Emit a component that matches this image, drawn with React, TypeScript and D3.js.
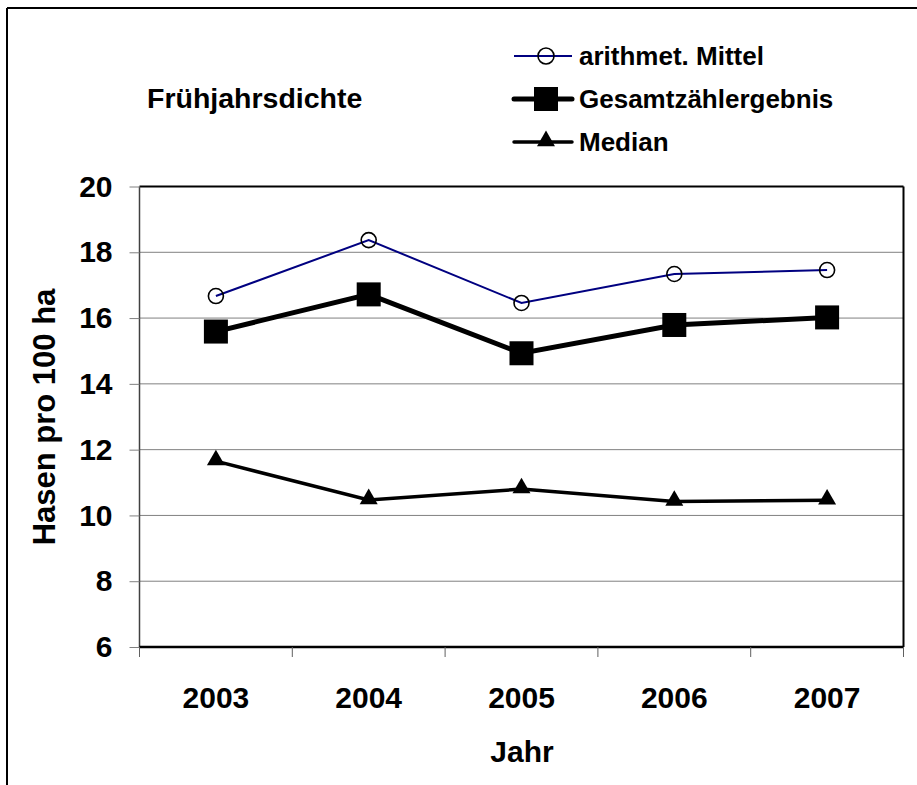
import * as d3 from "d3";
import { useEffect, useRef } from "react";

// Frühjahrsdichte – Hasen pro 100 ha, 2003-2007
const years = ["2003", "2004", "2005", "2006", "2007"];
const mittel = [16.67, 18.37, 16.46, 17.34, 17.46];
const gesamt = [15.59, 16.72, 14.93, 15.79, 16.02];
const median = [11.65, 10.47, 10.8, 10.42, 10.46];
const yTicks = [6, 8, 10, 12, 14, 16, 18, 20];

const W = 917;
const H = 785;
const left = 139.5;
const right = 903.5;
const top = 186.5;
const bottom = 647;
const font = "'Liberation Sans', Arial, sans-serif";

export default function App() {
  const axisRef = useRef<SVGGElement>(null);

  const x = d3.scaleBand(years, [left, right]);
  const y = d3.scaleLinear([6, 20], [bottom, top]);
  const cx = (d: string) => (x(d) ?? 0) + x.bandwidth() / 2;

  const line = d3
    .line<number>()
    .x((_, i) => cx(years[i]))
    .y((v) => y(v));

  const triangle = d3.symbol(d3.symbolTriangle, 140)();

  // axes drawn with d3 through the ref
  function axisCreation() {
    const g = d3.select(axisRef.current);
    g.selectAll("*").remove();

    const yAxis = d3.axisLeft(y).tickValues(yTicks).tickSize(10).tickPadding(17);
    const ya = g.append("g").attr("transform", `translate(${left},0)`).call(yAxis);
    ya.select(".domain").remove();
    ya.selectAll(".tick line").attr("stroke", "#808080");
    ya.selectAll(".tick text")
      .attr("font-family", font)
      .attr("font-weight", "bold")
      .attr("font-size", 30)
      .attr("fill", "#000");

    // category boundaries as tick marks
    const bounds = years.map((d) => x(d) ?? 0).concat([right]);
    g.append("g")
      .selectAll("line")
      .data(bounds)
      .join("line")
      .attr("x1", (d) => d)
      .attr("x2", (d) => d)
      .attr("y1", bottom)
      .attr("y2", bottom + 10)
      .attr("stroke", "#606060")
      .attr("stroke-width", 1);

    g.append("g")
      .selectAll("text")
      .data(years)
      .join("text")
      .attr("x", (d) => cx(d))
      .attr("y", 708)
      .attr("text-anchor", "middle")
      .attr("font-family", font)
      .attr("font-weight", "bold")
      .attr("font-size", 30)
      .text((d) => d);
  }

  useEffect(axisCreation, []);

  const legend = [
    { label: "arithmet. Mittel", y: 56, kind: "circle" },
    { label: "Gesamtzählergebnis", y: 99, kind: "square" },
    { label: "Median", y: 142, kind: "triangle" },
  ];

  return (
    <div style={{ position: "absolute", left: 0, top: 0 }}>
      <svg width={W} height={H} style={{ display: "block", background: "#fff" }}>
        {/* outer frame */}
        <line x1={7} x2={W} y1={8} y2={8} stroke="#000" strokeWidth={2} />
        <line x1={7} x2={7} y1={8} y2={H} stroke="#000" strokeWidth={2} />

        {/* grid */}
        {yTicks.slice(1, -1).map((t) => (
          <line key={t} x1={left} x2={right} y1={y(t)} y2={y(t)} stroke="#808080" strokeWidth={1} />
        ))}

        {/* plot frame */}
        <line x1={left} x2={right} y1={top} y2={top} stroke="#000" strokeWidth={2} />
        <line x1={right} x2={right} y1={top} y2={bottom} stroke="#000" strokeWidth={2} />
        <line x1={left} x2={left} y1={top} y2={bottom} stroke="#404040" strokeWidth={1.5} />
        <line x1={left} x2={right} y1={bottom} y2={bottom} stroke="#000" strokeWidth={2.5} />

        <g ref={axisRef} />

        {/* series */}
        <path d={line(mittel) ?? ""} fill="none" stroke="#000080" strokeWidth={2} />
        <path d={line(gesamt) ?? ""} fill="none" stroke="#000" strokeWidth={5} />
        <path d={line(median) ?? ""} fill="none" stroke="#000" strokeWidth={3.5} />

        {mittel.map((v, i) => (
          <circle key={"m" + i} cx={cx(years[i])} cy={y(v)} r={7.5} fill="none" stroke="#000" strokeWidth={1.6} />
        ))}
        {gesamt.map((v, i) => (
          <rect key={"g" + i} x={cx(years[i]) - 12} y={y(v) - 12} width={24} height={24} fill="#000" />
        ))}
        {median.map((v, i) => (
          <path key={"d" + i} d={triangle ?? ""} transform={`translate(${cx(years[i])},${y(v) - 1})`} fill="#000" />
        ))}

        {/* titles */}
        <text x={147} y={108} fontFamily={font} fontWeight="bold" fontSize={28.5}>
          Frühjahrsdichte
        </text>
        <text x={522} y={762} textAnchor="middle" fontFamily={font} fontWeight="bold" fontSize={30}>
          Jahr
        </text>
        <text
          transform={`translate(55,417) rotate(-90)`}
          textAnchor="middle"
          fontFamily={font}
          fontWeight="bold"
          fontSize={31}
        >
          Hasen pro 100 ha
        </text>

        {/* legend */}
        {legend.map((l) => (
          <g key={l.label} transform={`translate(0,${l.y})`}>
            {l.kind === "circle" && (
              <>
                <line x1={514} x2={572} y1={0} y2={0} stroke="#000080" strokeWidth={2} />
                <circle cx={546} cy={0} r={8} fill="none" stroke="#000" strokeWidth={1.6} />
              </>
            )}
            {l.kind === "square" && (
              <>
                <line x1={514} x2={572} y1={0} y2={0} stroke="#000" strokeWidth={5} strokeLinecap="round" />
                <rect x={534} y={-12} width={24} height={24} fill="#000" />
              </>
            )}
            {l.kind === "triangle" && (
              <>
                <line x1={514} x2={572} y1={0} y2={0} stroke="#000" strokeWidth={3.5} strokeLinecap="round" />
                <path d={triangle ?? ""} transform="translate(546,-1)" fill="#000" />
              </>
            )}
            <text x={579} y={9} fontFamily={font} fontWeight="bold" fontSize={26}>
              {l.label}
            </text>
          </g>
        ))}
      </svg>
    </div>
  );
}
